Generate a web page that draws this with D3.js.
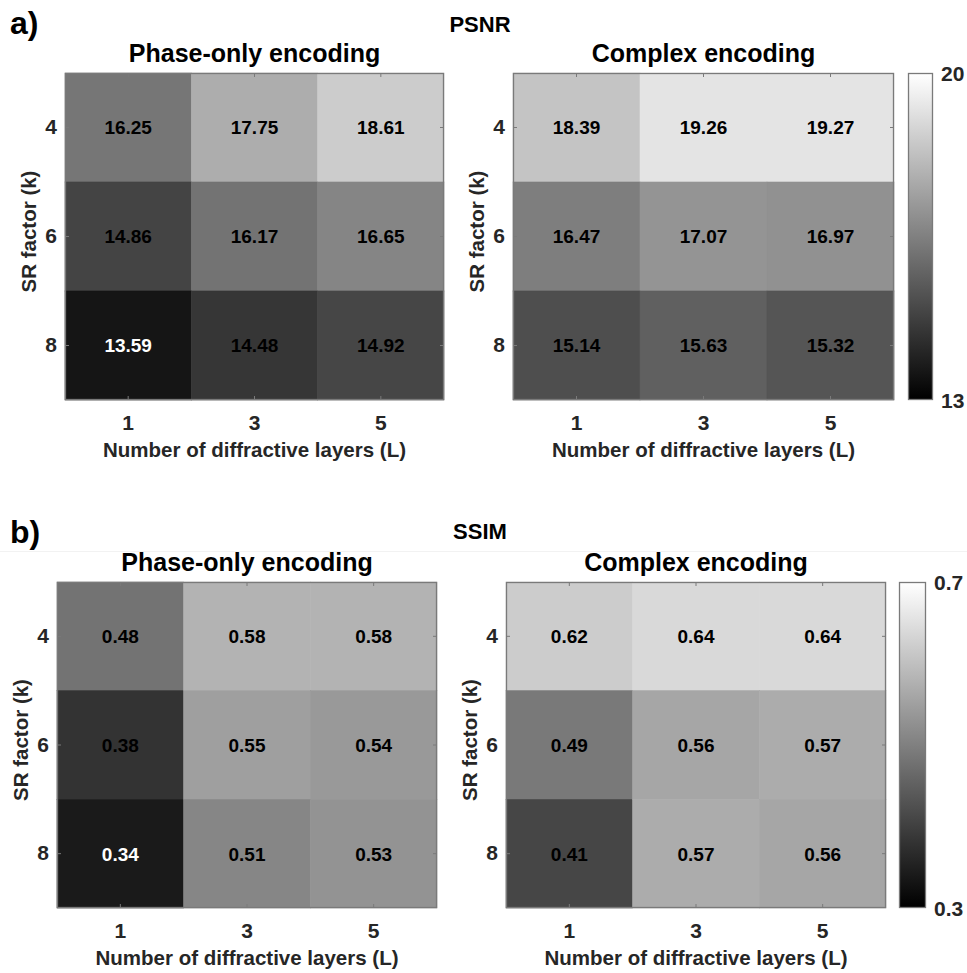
<!DOCTYPE html>
<html>
<head>
<meta charset="utf-8">
<script src="https://cdn.jsdelivr.net/npm/d3@7"></script>
<style>
  html, body { margin: 0; padding: 0; background: #ffffff; }
  svg { display: block; font-family: "Liberation Sans", Arial, Helvetica, sans-serif; }
</style>
</head>
<body>
<svg id="chart" width="967" height="973"></svg>
<script>
// ---------- data ----------
const layers = ["1", "3", "5"];            // x categories: Number of diffractive layers (L)
const srFactors = ["4", "6", "8"];         // y categories: SR factor (k)

const psnrPhase   = [[16.25, 17.75, 18.61], [14.86, 16.17, 16.65], [13.59, 14.48, 14.92]];
const psnrComplex = [[18.39, 19.26, 19.27], [16.47, 17.07, 16.97], [15.14, 15.63, 15.32]];
const ssimPhase   = [[0.48, 0.58, 0.58], [0.38, 0.55, 0.54], [0.34, 0.51, 0.53]];
const ssimComplex = [[0.62, 0.64, 0.64], [0.49, 0.56, 0.57], [0.41, 0.57, 0.56]];

const psnrRange = [13, 20];
const ssimRange = [0.3, 0.7];
const psnrTickLabels = ["13", "20"];
const ssimTickLabels = ["0.3", "0.7"];

const panelTitles = ["Phase-only encoding", "Complex encoding"];
const rowTitles = ["PSNR", "SSIM"];
const rowLetters = ["a)", "b)"];
const xLabel = "Number of diffractive layers (L)";
const yLabel = "SR factor (k)";

// ---------- drawing ----------
const svg = d3.select("#chart");
const FONT_W = "bold";
const TXT = "#262626";
const FRAME = "#7a7a7a";

function heatmap(g, values, box, range, title) {
  const x = d3.scaleBand().domain(layers).range([box.x0, box.x1]);
  const y = d3.scaleBand().domain(srFactors).range([box.y0, box.y1]);
  const color = d3.scaleLinear().domain(range).range(["#000000", "#ffffff"]).clamp(true);
  const norm = d3.scaleLinear().domain(range).range([0, 1]);

  const cells = [];
  srFactors.forEach((k, i) => layers.forEach((l, j) => cells.push({ k, l, v: values[i][j] })));

  g.selectAll("rect.cell").data(cells).enter().append("rect")
    .attr("class", "cell")
    .attr("x", d => x(d.l)).attr("y", d => y(d.k))
    .attr("width", x.bandwidth()).attr("height", y.bandwidth())
    .attr("fill", d => color(d.v))
    .attr("stroke", d => color(d.v)).attr("stroke-width", 0.6);

  g.selectAll("text.val").data(cells).enter().append("text")
    .attr("class", "val")
    .attr("x", d => x(d.l) + x.bandwidth() / 2)
    .attr("y", d => y(d.k) + y.bandwidth() / 2)
    .attr("dy", "0.36em")
    .attr("text-anchor", "middle")
    .attr("font-size", 19).attr("font-weight", FONT_W)
    .attr("fill", d => norm(d.v) < 0.15 ? "#ffffff" : "#000000")
    .text(d => d.v.toFixed(2));

  // frame
  g.append("rect")
    .attr("x", box.x0 + 0.5).attr("y", box.y0 + 0.5)
    .attr("width", box.x1 - box.x0 - 1).attr("height", box.y1 - box.y0 - 1)
    .attr("fill", "none").attr("stroke", FRAME).attr("stroke-width", 1.3);

  // axes
  const axB = g.append("g").attr("transform", `translate(0,${box.y1})`)
    .call(d3.axisBottom(x).tickSize(-4).tickPadding(15));
  const axT = g.append("g").attr("transform", `translate(0,${box.y0})`)
    .call(d3.axisTop(x).tickSize(-4).tickFormat(""));
  const axL = g.append("g").attr("transform", `translate(${box.x0},0)`)
    .call(d3.axisLeft(y).tickSize(-4).tickPadding(8));
  const axR = g.append("g").attr("transform", `translate(${box.x1},0)`)
    .call(d3.axisRight(y).tickSize(-4).tickFormat(""));
  [axB, axT, axL, axR].forEach(a => {
    a.select(".domain").remove();
    a.selectAll("line").attr("stroke", FRAME);
    a.selectAll("text").attr("font-size", 21).attr("font-weight", FONT_W)
      .attr("fill", TXT).attr("font-family", "Liberation Sans, Arial, sans-serif");
  });

  // title
  g.append("text")
    .attr("x", (box.x0 + box.x1) / 2).attr("y", box.y0 - 11)
    .attr("text-anchor", "middle").attr("font-size", 25).attr("font-weight", FONT_W)
    .attr("fill", "#000").text(title);

  // x label
  g.append("text")
    .attr("x", (box.x0 + box.x1) / 2).attr("y", box.y1 + 57)
    .attr("text-anchor", "middle").attr("font-size", 20.5).attr("font-weight", FONT_W)
    .attr("fill", TXT).text(xLabel);

  // y label
  const cy = (box.y0 + box.y1) / 2 - 5;
  g.append("text")
    .attr("transform", `translate(${box.x0 - 29},${cy}) rotate(-90)`)
    .attr("text-anchor", "middle").attr("font-size", 20.5).attr("font-weight", FONT_W)
    .attr("fill", TXT).text(yLabel);
}

function colorbar(g, box, range, labels) {
  const id = "cbgrad" + Math.round(box.y0);
  const defs = svg.append("defs");
  const grad = defs.append("linearGradient").attr("id", id)
    .attr("x1", 0).attr("y1", 1).attr("x2", 0).attr("y2", 0);
  const c = d3.scaleLinear().domain([0, 1]).range(["#000000", "#ffffff"]);
  d3.range(0, 1.0001, 0.1).forEach(t => grad.append("stop").attr("offset", t).attr("stop-color", c(t)));
  const ys = d3.scaleLinear().domain(range).range([box.y1, box.y0]);
  g.append("rect")
    .attr("x", box.x0 + 0.5).attr("y", box.y0 + 0.5)
    .attr("width", box.x1 - box.x0 - 1).attr("height", box.y1 - box.y0 - 1)
    .attr("fill", `url(#${id})`).attr("stroke", FRAME).attr("stroke-width", 1.3);
  g.selectAll("text.cb").data(range).enter().append("text")
    .attr("class", "cb")
    .attr("x", box.x1 + 8)
    .attr("y", d => ys(d))
    .attr("dy", "0.36em")
    .attr("font-size", 21).attr("font-weight", FONT_W).attr("fill", TXT)
    .text((d, i) => labels[i]);
}

// faint separator between the two figure rows
svg.append("line").attr("x1", 0).attr("x2", 967).attr("y1", 551.5).attr("y2", 551.5)
  .attr("stroke", "#f2f2f2").attr("stroke-width", 1);

const rows = [
  { letterY: 34, titleY: 32, data: [psnrPhase, psnrComplex], range: psnrRange, labels: psnrTickLabels,
    boxes: [{ x0: 65, x1: 444, y0: 73, y1: 400 }, { x0: 513, x1: 894, y0: 73, y1: 400 }],
    cb: { x0: 908, x1: 933, y0: 73, y1: 400 } },
  { letterY: 543, titleY: 539, data: [ssimPhase, ssimComplex], range: ssimRange, labels: ssimTickLabels,
    boxes: [{ x0: 57, x1: 437, y0: 582, y1: 908 }, { x0: 506, x1: 886, y0: 582, y1: 908 }],
    cb: { x0: 899, x1: 926, y0: 582, y1: 908 } }
];

rows.forEach((r, ri) => {
  const g = svg.append("g");
  g.append("text").attr("x", 10).attr("y", r.letterY)
    .attr("font-size", 32).attr("font-weight", FONT_W).attr("fill", "#000").text(rowLetters[ri]);
  g.append("text").attr("x", 480).attr("y", r.titleY).attr("text-anchor", "middle")
    .attr("font-size", 22).attr("font-weight", FONT_W).attr("fill", "#000").text(rowTitles[ri]);
  r.boxes.forEach((b, pi) => heatmap(g.append("g"), r.data[pi], b, r.range, panelTitles[pi]));
  colorbar(g.append("g"), r.cb, r.range, r.labels);
});
</script>
</body>
</html>
